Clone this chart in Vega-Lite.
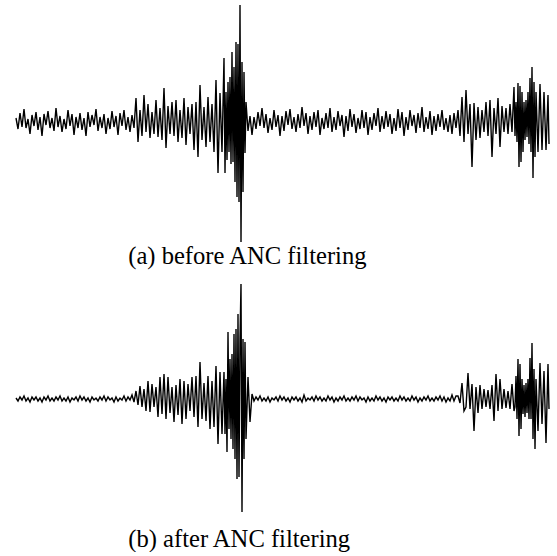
{
"$schema": "https://vega.github.io/schema/vega-lite/v6.json",
"padding": {"left": 13, "top": 0, "right": 0, "bottom": 0},
"spacing": 0,
"background": "white",
"config": {"view": {"stroke": null}, "title": {"font": "Liberation Serif", "fontSize": 24.6, "fontWeight": "normal", "color": "black", "anchor": "start", "orient": "bottom"}},
"data": {"values": [
{"t":0,"a":4,"b":1},{"t":2,"a":-7,"b":-2},{"t":4,"a":9,"b":2},{"t":6,"a":-5,"b":-1},{"t":8,"a":13,"b":3},{"t":10,"a":-6,"b":-2},{"t":12,"a":3,"b":1},{"t":14,"a":-12,"b":-3},{"t":16,"a":7,"b":2},{"t":18,"a":-4,"b":-1},
{"t":20,"a":10,"b":2},{"t":22,"a":-8,"b":-2},{"t":24,"a":5,"b":1},{"t":26,"a":-14,"b":-3},{"t":28,"a":8,"b":2},{"t":30,"a":-3,"b":-1},{"t":32,"a":11,"b":3},{"t":34,"a":-6,"b":-2},{"t":36,"a":4,"b":1},{"t":38,"a":-9,"b":-2},
{"t":40,"a":14,"b":2},{"t":42,"a":-5,"b":-1},{"t":44,"a":6,"b":3},{"t":46,"a":-10,"b":-2},{"t":48,"a":3,"b":1},{"t":50,"a":-7,"b":-2},{"t":52,"a":12,"b":2},{"t":54,"a":-4,"b":-3},{"t":56,"a":8,"b":1},{"t":58,"a":-13,"b":-1},
{"t":60,"a":5,"b":2},{"t":62,"a":-6,"b":-2},{"t":64,"a":9,"b":3},{"t":66,"a":-8,"b":-1},{"t":68,"a":4,"b":2},{"t":70,"a":-14,"b":-2},{"t":72,"a":10,"b":1},{"t":74,"a":-5,"b":-3},{"t":76,"a":7,"b":2},{"t":78,"a":-3,"b":-1},
{"t":80,"a":13,"b":1},{"t":82,"a":-9,"b":-2},{"t":84,"a":5,"b":2},{"t":86,"a":-6,"b":-1},{"t":88,"a":8,"b":3},{"t":90,"a":-12,"b":-2},{"t":92,"a":4,"b":2},{"t":94,"a":-7,"b":-1},{"t":96,"a":11,"b":1},{"t":98,"a":-5,"b":-3},
{"t":100,"a":6,"b":2},{"t":102,"a":-13,"b":-2},{"t":104,"a":9,"b":1},{"t":106,"a":-4,"b":-1},{"t":108,"a":12,"b":3},{"t":110,"a":-8,"b":-2},{"t":112,"a":5,"b":2},{"t":114,"a":-10,"b":-1},{"t":116,"a":7,"b":4},{"t":118,"a":-6,"b":-3},
{"t":120,"a":24,"b":8},{"t":122,"a":-20,"b":-6},{"t":124,"a":12,"b":13},{"t":126,"a":-14,"b":-8},{"t":128,"a":27,"b":10},{"t":130,"a":-10,"b":-12},{"t":132,"a":18,"b":18},{"t":134,"a":-16,"b":-13},{"t":136,"a":10,"b":15},{"t":138,"a":-12,"b":-8},
{"t":140,"a":22,"b":12},{"t":142,"a":-15,"b":-18},{"t":144,"a":14,"b":22},{"t":146,"a":-18,"b":-15},{"t":148,"a":34,"b":25},{"t":150,"a":-26,"b":-20},{"t":152,"a":16,"b":22},{"t":154,"a":-12,"b":-14},{"t":156,"a":20,"b":12},{"t":158,"a":-14,"b":-23},
{"t":160,"a":22,"b":14},{"t":162,"a":-20,"b":-16},{"t":164,"a":12,"b":20},{"t":166,"a":-16,"b":-25},{"t":168,"a":24,"b":18},{"t":170,"a":-23,"b":-20},{"t":172,"a":15,"b":15},{"t":174,"a":-12,"b":-12},{"t":176,"a":18,"b":22},{"t":178,"a":-28,"b":-18},
{"t":180,"a":20,"b":23},{"t":182,"a":-35,"b":-28},{"t":184,"a":37,"b":37},{"t":186,"a":-18,"b":-20},{"t":188,"a":15,"b":16},{"t":190,"a":-25,"b":-22},{"t":192,"a":25,"b":23},{"t":194,"a":-20,"b":-30},{"t":196,"a":18,"b":18},{"t":198,"a":-30,"b":-28},
{"t":200,"a":42,"b":33},{"t":202,"a":-51,"b":-45},{"t":204,"a":29,"b":27},{"t":206,"a":-30,"b":-35},
{"t":208,"a":64,"b":27},{"t":209,"a":-51,"b":-35},{"t":210,"a":30,"b":20},{"t":211,"a":-38,"b":-53},{"t":212,"a":40,"b":67},{"t":213,"a":-30,"b":-30},{"t":214,"a":45,"b":40},{"t":215,"a":-42,"b":-40},{"t":216,"a":70,"b":45},{"t":217,"a":-40,"b":-50},
{"t":218,"a":55,"b":65},{"t":219,"a":-60,"b":-60},{"t":220,"a":80,"b":70},{"t":221,"a":-75,"b":-80},{"t":222,"a":78,"b":85},{"t":223,"a":-80,"b":-78},{"t":224,"a":117,"b":60},{"t":225,"a":-120,"b":115},{"t":226,"a":60,"b":-113},{"t":227,"a":-70,"b":60},
{"t":228,"a":50,"b":-60},{"t":229,"a":-31,"b":57},{"t":230,"a":20,"b":-40},
{"t":232,"a":-9,"b":22},{"t":234,"a":6,"b":-23},{"t":236,"a":-13,"b":5},{"t":238,"a":5,"b":-2},{"t":240,"a":-7,"b":2},{"t":242,"a":10,"b":-1},{"t":244,"a":-4,"b":3},{"t":246,"a":14,"b":-2},{"t":248,"a":-6,"b":1},{"t":250,"a":8,"b":-2},
{"t":252,"a":-11,"b":2},{"t":254,"a":4,"b":-3},{"t":256,"a":-8,"b":1},{"t":258,"a":12,"b":-1},{"t":260,"a":-5,"b":2},{"t":262,"a":7,"b":-2},{"t":264,"a":-14,"b":3},{"t":266,"a":6,"b":-1},{"t":268,"a":-9,"b":2},{"t":270,"a":11,"b":-2},
{"t":272,"a":-3,"b":1},{"t":274,"a":13,"b":-3},{"t":276,"a":-7,"b":2},{"t":278,"a":5,"b":-1},{"t":280,"a":-10,"b":2},{"t":282,"a":8,"b":-2},{"t":284,"a":-6,"b":1},{"t":286,"a":15,"b":-3},{"t":288,"a":-4,"b":4},{"t":290,"a":9,"b":-2},
{"t":292,"a":-12,"b":1},{"t":294,"a":6,"b":-1},{"t":296,"a":-8,"b":2},{"t":298,"a":10,"b":-2},{"t":300,"a":-5,"b":3},{"t":302,"a":12,"b":-1},{"t":304,"a":-13,"b":2},{"t":306,"a":4,"b":-2},{"t":308,"a":-7,"b":1},{"t":310,"a":9,"b":-2},
{"t":312,"a":-6,"b":3},{"t":314,"a":14,"b":-1},{"t":316,"a":-10,"b":2},{"t":318,"a":5,"b":-3},{"t":320,"a":-8,"b":1},{"t":322,"a":11,"b":-2},{"t":324,"a":-4,"b":2},{"t":326,"a":7,"b":-1},{"t":328,"a":-15,"b":3},{"t":330,"a":6,"b":-2},
{"t":332,"a":-9,"b":1},{"t":334,"a":13,"b":-2},{"t":336,"a":-5,"b":2},{"t":338,"a":8,"b":-1},{"t":340,"a":-11,"b":3},{"t":342,"a":4,"b":-2},{"t":344,"a":-7,"b":2},{"t":346,"a":12,"b":-1},{"t":348,"a":-6,"b":1},{"t":350,"a":10,"b":-3},
{"t":352,"a":-13,"b":2},{"t":354,"a":5,"b":-2},{"t":356,"a":-8,"b":1},{"t":358,"a":9,"b":-2},{"t":360,"a":-4,"b":3},{"t":362,"a":14,"b":-1},{"t":364,"a":-10,"b":2},{"t":366,"a":6,"b":-2},{"t":368,"a":-7,"b":1},{"t":370,"a":11,"b":-3},
{"t":372,"a":-5,"b":2},{"t":374,"a":8,"b":-1},{"t":376,"a":-12,"b":2},{"t":378,"a":4,"b":-2},{"t":380,"a":-9,"b":1},{"t":382,"a":13,"b":-2},{"t":384,"a":-6,"b":3},{"t":386,"a":10,"b":-1},{"t":388,"a":-14,"b":2},{"t":390,"a":5,"b":-2},
{"t":392,"a":-8,"b":1},{"t":394,"a":12,"b":-2},{"t":396,"a":-4,"b":3},{"t":398,"a":7,"b":-1},{"t":400,"a":-11,"b":2},{"t":402,"a":9,"b":-3},{"t":404,"a":-6,"b":1},{"t":406,"a":15,"b":-2},{"t":408,"a":-10,"b":2},{"t":410,"a":5,"b":-1},
{"t":412,"a":-7,"b":3},{"t":414,"a":11,"b":-2},{"t":416,"a":-13,"b":1},{"t":418,"a":6,"b":-2},{"t":420,"a":-9,"b":2},{"t":422,"a":8,"b":-1},{"t":424,"a":-5,"b":3},{"t":426,"a":12,"b":-2},{"t":428,"a":-8,"b":2},{"t":430,"a":4,"b":-3},
{"t":432,"a":-10,"b":1},{"t":434,"a":7,"b":-2},{"t":436,"a":-12,"b":4},{"t":438,"a":9,"b":-2},{"t":440,"a":-6,"b":3},
{"t":442,"a":12,"b":3},{"t":444,"a":-14,"b":-4},{"t":446,"a":25,"b":16},{"t":448,"a":-20,"b":-12},{"t":450,"a":32,"b":-8},{"t":452,"a":-12,"b":26},{"t":454,"a":18,"b":-10},{"t":456,"a":-45,"b":15},{"t":458,"a":19,"b":-32},{"t":460,"a":-18,"b":12},
{"t":462,"a":15,"b":-14},{"t":464,"a":-16,"b":14},{"t":466,"a":12,"b":-10},{"t":468,"a":-10,"b":10},{"t":470,"a":20,"b":-8},{"t":472,"a":-14,"b":9},{"t":474,"a":22,"b":-10},{"t":476,"a":-35,"b":14},{"t":478,"a":14,"b":-22},{"t":480,"a":-12,"b":25},
{"t":482,"a":24,"b":-12},{"t":484,"a":-25,"b":20},{"t":486,"a":16,"b":-10},{"t":488,"a":-10,"b":10},{"t":490,"a":14,"b":-9},{"t":492,"a":-12,"b":8},{"t":494,"a":18,"b":-10},{"t":496,"a":-10,"b":15},{"t":498,"a":35,"b":-12},
{"t":499,"a":-14,"b":-8},{"t":500,"a":20,"b":23},{"t":501,"a":-20,"b":-20},{"t":502,"a":39,"b":40},{"t":503,"a":-45,"b":-37},{"t":504,"a":36,"b":35},{"t":505,"a":-40,"b":-30},{"t":506,"a":30,"b":20},{"t":507,"a":-30,"b":-15},{"t":508,"a":20,"b":14},
{"t":509,"a":-18,"b":-18},{"t":510,"a":22,"b":16},{"t":511,"a":-15,"b":-14},{"t":512,"a":30,"b":20},{"t":513,"a":-22,"b":-20},{"t":514,"a":44,"b":41},{"t":515,"a":-30,"b":-20},{"t":516,"a":55,"b":56},{"t":517,"a":-56,"b":-40},{"t":518,"a":40,"b":30},
{"t":519,"a":-35,"b":-50},{"t":520,"a":30,"b":20},
{"t":522,"a":-30,"b":-32},{"t":524,"a":38,"b":36},{"t":526,"a":-28,"b":-25},{"t":528,"a":30,"b":28},{"t":530,"a":-28,"b":-44},{"t":532,"a":27,"b":35},{"t":533,"a":-22,"b":-10}
]},
"vconcat": [
{"width": 533, "height": 245,
 "title": {"text": "(a) before ANC filtering", "offset": 0, "dx": 115},
 "mark": {"type": "line", "color": "black", "strokeWidth": 1.4},
 "encoding": {
  "x": {"field": "t", "type": "quantitative", "scale": {"domain": [0, 533], "nice": false, "zero": false}, "axis": null},
  "y": {"field": "a", "type": "quantitative", "scale": {"domain": [-123, 122], "nice": false, "zero": false}, "axis": null}}},
{"width": 533, "height": 250,
 "title": {"text": "(b) after ANC filtering", "offset": 9, "dx": 115},
 "mark": {"type": "line", "color": "black", "strokeWidth": 1.4},
 "encoding": {
  "x": {"field": "t", "type": "quantitative", "scale": {"domain": [0, 533], "nice": false, "zero": false}, "axis": null},
  "y": {"field": "b", "type": "quantitative", "scale": {"domain": [-120, 130], "nice": false, "zero": false}, "axis": null}}}
]
}
